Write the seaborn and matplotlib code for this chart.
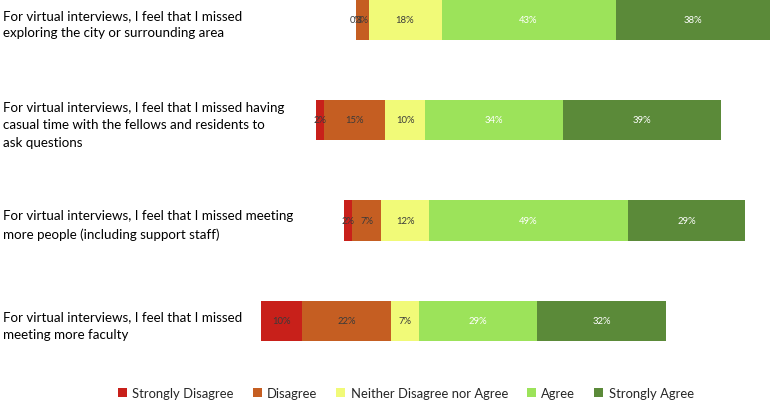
import matplotlib

matplotlib.use("Agg")
import matplotlib.pyplot as plt
import matplotlib.transforms as mtransforms
from matplotlib.patches import Patch
import numpy as np
import pandas as pd
import seaborn as sns

# Survey items (top to bottom)
items = [
    "For virtual interviews, I feel that I missed\nexploring the city or surrounding area",
    "For virtual interviews, I feel that I missed having\ncasual time with the fellows and residents to\nask questions",
    "For virtual interviews, I feel that I missed meeting\nmore people (including support staff)",
    "For virtual interviews, I feel that I missed\nmeeting more faculty",
]
levels = ["Strongly Disagree", "Disagree", "Neither Disagree nor Agree", "Agree", "Strongly Agree"]

# Percent responding at each level, per item
strongly_disagree = [0, 2, 2, 10]
disagree = [3, 15, 7, 22]
neutral = [18, 10, 12, 7]
agree = [43, 34, 49, 29]
strongly_agree = [38, 39, 29, 32]

level_colors = ["#C8201A", "#C55E22", "#F1FA78", "#9CE35A", "#5B8A39"]
label_colors = ["#3a3a3a", "#3a3a3a", "#3a3a3a", "white", "white"]

sns.set_theme(style="white")
plt.rcParams["font.family"] = ["Lato", "DejaVu Sans"]

values = np.array([strongly_disagree, disagree, neutral, agree, strongly_agree], dtype=float)
# diverging layout: centre of the neutral segment sits at zero
starts = -(values[0] + values[1] + values[2] / 2)

fig = plt.figure(figsize=(7.7, 4.02), dpi=100)
ax = fig.add_axes([0, 30 / 402, 1, 372 / 402])

left = starts.copy()
for lvl, vals, col, tcol in zip(levels, values, level_colors, label_colors):
    df = pd.DataFrame({"item": items, "pct": vals})
    sns.barplot(
        data=df, y="item", x="pct", order=items, left=left.copy(),
        color=col, width=0.4, errorbar=None, saturation=1, ax=ax,
        edgecolor="none", linewidth=0,
    )
    for i, v in enumerate(vals):
        ax.text(left[i] + v / 2, i, f"{int(v)}%", ha="center", va="center",
                fontsize=6.8, color=tcol)
    left = left + vals

ax.set_xlim(-100, 90.1)
ax.set_ylim(3.498, -0.204)
ax.axis("off")

# item labels, left aligned at the figure edge
trans = mtransforms.blended_transform_factory(fig.transFigure, ax.transData)
for i, txt in enumerate(items):
    ax.text(3 / 770, i + 0.04, txt, transform=trans, ha="left", va="center",
            fontsize=9.6, color="black", linespacing=1.55)

handles = [Patch(facecolor=c, edgecolor="none", label=l) for l, c in zip(levels, level_colors)]
fig.legend(handles=handles, loc="center", bbox_to_anchor=(0.527, 8 / 402), ncol=5,
           frameon=False, fontsize=9.4, handlelength=0.7, handleheight=0.7,
           handletextpad=0.4, columnspacing=1.45)

fig.savefig("out.png", dpi=100)
